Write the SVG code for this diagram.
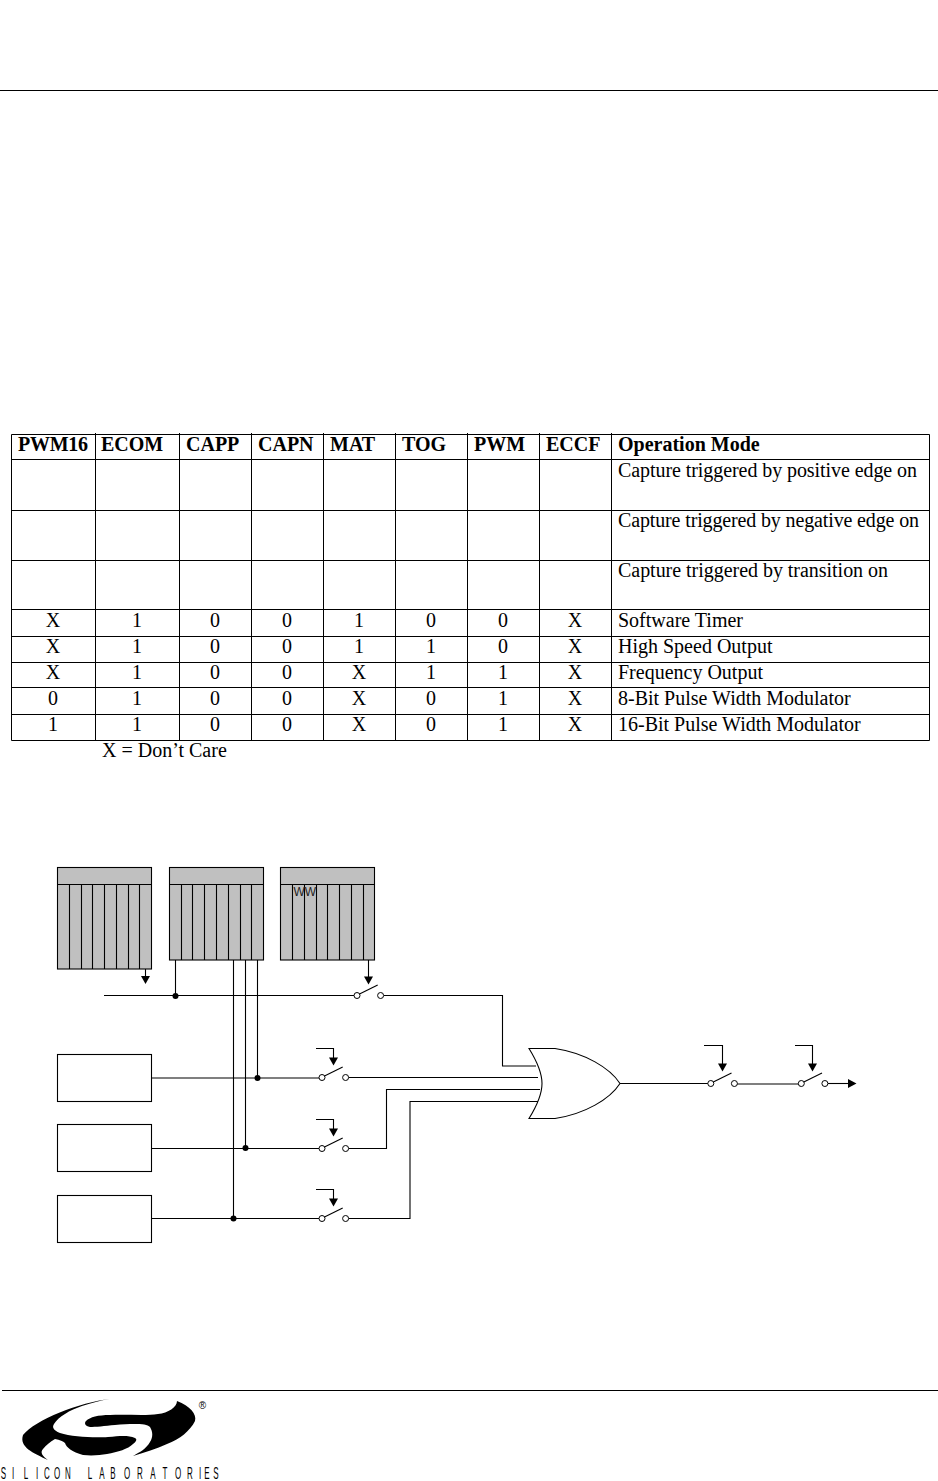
<svg xmlns="http://www.w3.org/2000/svg" width="938" height="1481" viewBox="0 0 938 1481">
<style>
.ln{stroke:#000;stroke-width:1;fill:none}
.w{stroke:#000;stroke-width:1.1;fill:none}
.g{stroke:#000;stroke-width:1.2;fill:none}
.t{font-family:"Liberation Serif","Times New Roman",serif;font-size:20px;fill:#000}
.h{font-weight:bold}
.c{text-anchor:middle}
.reg{fill:#c0c0c0;stroke:#000;stroke-width:1.1}
.box{fill:#fff;stroke:#000;stroke-width:1.1}
.sw{fill:#fff;stroke:#000;stroke-width:1}
.dot{fill:#000}
.head{fill:#000}
</style>
<defs>
<g id="swi"><circle class="sw" cx="0" cy="0" r="3"/><circle class="sw" cx="23.6" cy="0" r="3"/><line class="w" x1="2.5" y1="-1.4" x2="20.7" y2="-10.5"/></g>
</defs>
<g id="page-rules">
<line class="ln" x1="0" y1="90.5" x2="938" y2="90.5"/>
<line class="ln" x1="2" y1="1390.5" x2="938" y2="1390.5"/>
</g>
<g id="mode-table">
<path class="ln" d="M11.5,434.5H929.5V740.5H11.5ZM11.5,459.5H929.5M11.5,510.5H929.5M11.5,560.5H929.5M11.5,609.5H929.5M11.5,636.5H929.5M11.5,662.5H929.5M11.5,687.5H929.5M11.5,714.5H929.5M95.5,433V740M179.5,433V740M251.5,433V740M323.5,433V740M395.5,433V740M467.5,433V740M539.5,433V740M611.5,433V740"/>
<g class="t h">
<text x="18" y="451" textLength="70">PWM16</text><text x="101" y="451">ECOM</text><text x="186" y="451">CAPP</text><text x="258" y="451">CAPN</text><text x="330" y="451">MAT</text><text x="402" y="451">TOG</text><text x="474" y="451">PWM</text><text x="546" y="451">ECCF</text><text x="618" y="451">Operation Mode</text>
</g>
<g class="t">
<text x="618" y="477" textLength="299">Capture triggered by positive edge on</text>
<text x="618" y="527" textLength="301">Capture triggered by negative edge on</text>
<text x="618" y="577" textLength="270">Capture triggered by transition on</text>
<text x="618" y="627">Software Timer</text>
<text x="618" y="653">High Speed Output</text>
<text x="618" y="679">Frequency Output</text>
<text x="618" y="705">8-Bit Pulse Width Modulator</text>
<text x="618" y="731">16-Bit Pulse Width Modulator</text>
<text x="102" y="757">X = Don’t Care</text>
</g>
<g class="t c">
<text x="53 137 215 287 359 431 503 575" y="627">X100100X</text>
<text x="53 137 215 287 359 431 503 575" y="653">X100110X</text>
<text x="53 137 215 287 359 431 503 575" y="679">X100X11X</text>
<text x="53 137 215 287 359 431 503 575" y="705">0100X01X</text>
<text x="53 137 215 287 359 431 503 575" y="731">1100X01X</text>
</g>
</g>
<g id="connectors">
<path class="w" d="M104,995.5H356M384,995.5H502.5V1066H536"/>
<path class="w" d="M175.5,960V996M233.5,960V1218M245.5,960V1148M257.5,960V1078"/>
<path class="g" d="M151.5,1078H320"/>
<path class="w" d="M348.5,1077.5H538"/>
<path class="w" d="M151.5,1148.5H320M348.5,1148.5H386.5V1089.5H540"/>
<path class="w" d="M151.5,1218.5H320M348.5,1218.5H410V1101.5H538"/>
<path class="w" d="M620,1083.5H708"/>
<path class="g" d="M737,1084H799"/>
<path class="w" d="M828,1083.5H849"/>
<path class="w" d="M145.5,969V977M368.5,960V978M316,1048.5H333.5V1059M316,1119.5H333.5V1130M316,1189.5H333.5V1200M704,1045.5H722.5V1064M795,1045.5H812.5V1064"/>
<path class="head" d="M141,976H150L145.5,984ZM364,976.5H373L368.5,984.5ZM329,1057.5H338L333.5,1065.5ZM329,1128.5H338L333.5,1136.5ZM329,1198.5H338L333.5,1206.5ZM718,1063.5H727L722.5,1071.5ZM808,1063.5H817L812.5,1071.5ZM848,1079L856.5,1083.5L848,1088Z"/>
</g>
<g id="reg-a"><rect class="reg" x="57.5" y="867.5" width="94" height="101.5"/><path class="w" d="M57.5,884.5H151.5M69.5,884.5V969M81.5,884.5V969M92.5,884.5V969M104.5,884.5V969M116.5,884.5V969M128.5,884.5V969M139.5,884.5V969"/></g>
<g id="reg-b"><rect class="reg" x="169.5" y="867.5" width="94" height="92.5"/><path class="w" d="M169.5,884.5H263.5M181.5,884.5V960M192.5,884.5V960M204.5,884.5V960M216.5,884.5V960M228.5,884.5V960M240.5,884.5V960M251.5,884.5V960"/></g>
<g id="reg-c"><rect class="reg" x="280.5" y="867.5" width="94" height="92.5"/><path class="w" d="M280.5,884.5H374.5M292.5,884.5V960M304.5,884.5V960M316.5,884.5V960M327.5,884.5V960M339.5,884.5V960M351.5,884.5V960M363.5,884.5V960"/>
<text x="293.5" y="896" style="font-family:'Liberation Sans',Arial,sans-serif;font-size:12px;fill:#222">WW</text></g>
<g id="box-1"><rect class="box" x="57.5" y="1054.5" width="94" height="47"/></g>
<g id="box-2"><rect class="box" x="57.5" y="1124.5" width="94" height="47"/></g>
<g id="box-3"><rect class="box" x="57.5" y="1195.5" width="94" height="47"/></g>
<g id="junctions"><circle class="dot" cx="175.5" cy="996" r="3"/><circle class="dot" cx="257.5" cy="1078" r="3"/><circle class="dot" cx="245.5" cy="1148" r="3"/><circle class="dot" cx="233.5" cy="1218.5" r="3"/></g>
<g id="switch-top"><use href="#swi" x="357" y="995.5"/></g>
<g id="switch-1"><use href="#swi" x="322" y="1077.5"/></g>
<g id="switch-2"><use href="#swi" x="322" y="1148.5"/></g>
<g id="switch-3"><use href="#swi" x="322" y="1218.5"/></g>
<g id="switch-4"><use href="#swi" x="710.8" y="1083.5"/></g>
<g id="switch-5"><use href="#swi" x="801.3" y="1083.5"/></g>
<g id="or-gate"><path d="M529,1048.5H555C585,1053 610,1068 620,1083.5C610,1099 585,1114 555,1118.5H529C538,1104 542,1094 542,1083.5C542,1073 538,1063 529,1048.5Z" fill="#fff" stroke="#000" stroke-width="1.1"/></g>
<g id="logo">
<path d="M110,1399C80,1402 35,1420 23,1435C19,1447 33,1453 48,1460C42,1456 40,1452 43,1449C46,1445 50,1442 55,1439C60,1440 63,1441 65,1443C66,1447 72,1452 83,1455C93,1456 100,1455 107,1454C118,1452 128,1449 133,1444C137,1441 137,1439 135,1438C128,1435 120,1436 108,1437C95,1438 72,1437 60,1433C53,1430 52,1427 54,1424C58,1417 70,1410 82,1406C92,1403 102,1400 110,1399Z"/>
<path d="M177,1401C190,1406 197,1414 195,1421C190,1431 180,1439 167,1444C156,1449 145,1452 133,1456C140,1452 146,1449 150,1442C153,1437 153,1432 150,1427C146,1423 130,1424 115,1425C105,1426 95,1427 90,1427C85,1426 84,1423 86,1421C90,1417 98,1415 110,1415C125,1414 145,1416 158,1414C168,1413 177,1407 177,1401Z"/>
<text x="202.5" y="1409" style="font-family:'Liberation Sans',Arial,sans-serif;font-size:10px;fill:#000" text-anchor="middle">®</text>
<g transform="translate(0,1479) scale(.5,1)"><text y="0" text-anchor="middle" style="font-family:'Liberation Sans',Arial,sans-serif;font-size:16px;fill:#000" x="7 26 52 74 94 114 136 180 204 226 254 280 306 330 356 380 400 414 432">SILICONLABORATORIES</text></g>
</g>
</svg>
